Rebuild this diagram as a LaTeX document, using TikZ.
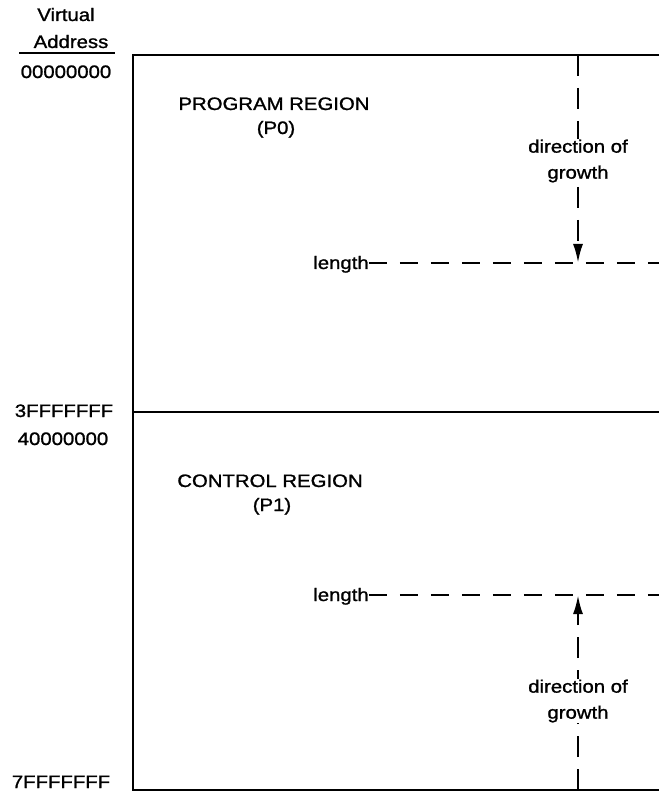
\documentclass[tikz,border=0pt]{standalone}
\usepackage{fontspec}
\setmainfont{Liberation Sans}[FakeStretch=1.13, FakeBold=1.2]
\usetikzlibrary{arrows.meta}

\begin{document}
\begin{tikzpicture}[x=1pt, y=-1pt,
    txt/.style={font=\fontsize{18}{26}\selectfont, inner sep=0pt, anchor=base},
    frame/.style={line width=1.8pt},
    dashline/.style={line width=2.4pt, dash pattern=on 18pt off 13pt},
    growth/.style={line width=2.4pt, dash pattern=on 21pt off 12pt, -{Latex[length=19pt,width=10pt]}},
    note/.style={font=\fontsize{18}{26}\selectfont, align=center, fill=white, inner sep=1pt}]
    \useasboundingbox (0,0) rectangle (659,799);

    % addresses on the left
    \node[txt] (virt) at (66,21) {Virtual};
    \node[txt] (addr) at (71,48) {Address};
    \draw[line width=1.6pt] ([shift={(-14,5)}]addr.base west) -- ([shift={(6,5)}]addr.base east);
    \node[txt] (a0) at (66,78) {00000000};
    \node[txt] (a1) at (64,417) {3FFFFFFF};
    \node[txt] (a2) at (63,445) {40000000};
    \node[txt] (a3) at (61,788) {7FFFFFFF};

    % the space, open on the right
    \coordinate (tl) at (133,55);
    \coordinate (tr) at (659,55);
    \coordinate (ml) at (133,412);
    \coordinate (mr) at (659,412);
    \coordinate (bl) at (133,790);
    \coordinate (br) at (659,790);
    \draw[frame] (tr) -- (tl) -- (bl) -- (br);
    \draw[frame] (ml) -- (mr);

    % program region
    \node[txt] (p0) at (274,110) {PROGRAM REGION};
    \node[txt] (p0b) at (276,134) {(P0)};
    \node[txt] (len0) at (341,269) {length};
    \coordinate (e0) at (659,263);
    \draw[dashline] (len0.east |- e0) -- (e0);
    \coordinate (g0) at (578,55);
    \coordinate (t0) at (578,263);
    \draw[growth] (g0) -- (t0);
    \node[note] (dir0) at (578,161) {direction of\\growth};

    % control region
    \node[txt] (p1) at (270,487) {CONTROL REGION};
    \node[txt] (p1b) at (272,511) {(P1)};
    \node[txt] (len1) at (341,601) {length};
    \coordinate (e1) at (659,595);
    \draw[dashline] (len1.east |- e1) -- (e1);
    \coordinate (g1) at (578,790);
    \coordinate (t1) at (578,595);
    \draw[growth] (g1) -- (t1);
    \node[note] (dir1) at (578,701) {direction of\\growth};
\end{tikzpicture}
\end{document}
